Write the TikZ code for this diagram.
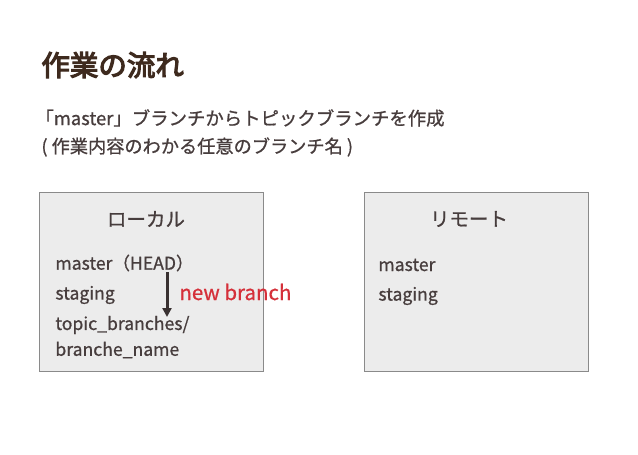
\documentclass[tikz,border=0pt]{standalone}
\usepackage{fontspec}
\usetikzlibrary{arrows.meta}
\newfontfamily\jp{Noto Sans CJK JP}[FakeBold=0.8]
\newfontfamily\jpb{Noto Sans CJK JP}[FakeBold=4]
\definecolor{titlebrown}{HTML}{3E2A1E}
\definecolor{textgray}{HTML}{473D3D}
\definecolor{boxfill}{HTML}{ECECEC}
\definecolor{boxline}{HTML}{8A8A8A}
\definecolor{newred}{HTML}{D5303A}
\begin{document}
\begin{tikzpicture}[x=1pt, y=-1pt, thick,
	box/.style = {draw=boxline, fill=boxfill, line width=1pt},
	txt/.style = {anchor=west, inner sep=0pt, text=textgray, font=\jp\fontsize{17.6}{20}\selectfont},
	head/.style = {inner sep=0pt, text=textgray, font=\jp\fontsize{19.5}{22}\selectfont}]

		\useasboundingbox[fill=white] (0,0) rectangle (638,455);

		\node[anchor=west, inner sep=0pt, text=titlebrown, font=\jpb\fontsize{28.5}{32}\selectfont] (title) at (41,65) {作業の流れ};
		\node[txt, font=\jp\fontsize{18.4}{20}\selectfont] (line1) at (35,118) {「master」ブランチからトピックブランチを作成};
		\node[txt, font=\jp\fontsize{18.2}{20}\selectfont] (line2) at (41,147) {( 作業内容のわかる任意のブランチ名 )};

		% local
		\draw[box] (39,192) rectangle (263,371);
		\node[head] (local) at (146,219) {ローカル};
		\node[txt] (master) at (55,263) {master（HEAD）};
		\node[txt] (staging) at (55,295) {staging};
		\node[txt] (topic) at (55,325) {topic\_branches/};
		\node[txt] (name) at (55,350) {branche\_name};

		% remote
		\draw[box] (364,192) rectangle (588,371);
		\node[head] (remote) at (469,219) {リモート};
		\node[txt] (rmaster) at (378,265) {master};
		\node[txt] (rstaging) at (378,296) {staging};

		\coordinate (a1) at (167,272);
		\coordinate (a2) at (167,317);
		\draw[-{Triangle[length=9pt,width=9pt]}, line width=3pt, draw=textgray!80!black] (a1) -- (a2);
		\node[txt, text=newred, font=\jp\fontsize{20.5}{22}\selectfont] (new) at (179,292) {new branch};
	\end{tikzpicture}
\end{document}
